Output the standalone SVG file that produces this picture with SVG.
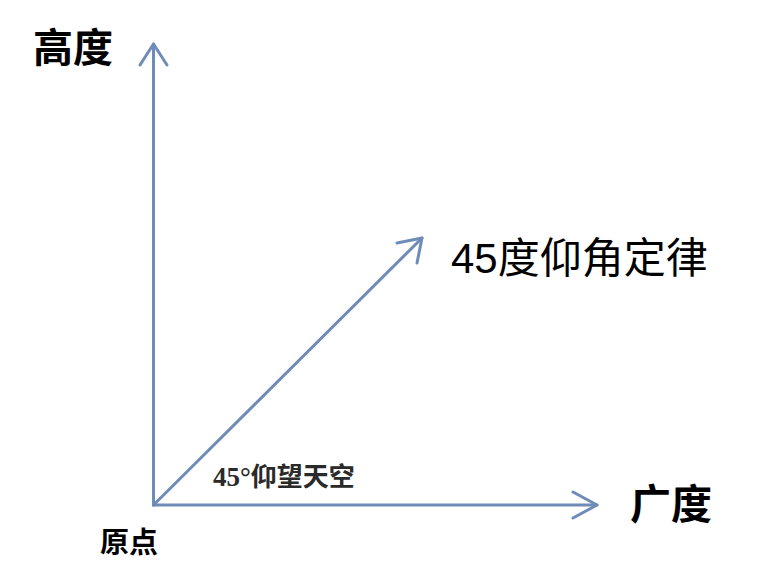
<svg xmlns="http://www.w3.org/2000/svg" width="767" height="588" viewBox="0 0 767 588">
<style>
.ax{fill:none;stroke:#6f8cb8;stroke-width:3;stroke-linecap:round;stroke-linejoin:round}
.big{font-family:"Liberation Sans","Noto Sans CJK SC",sans-serif;fill:#000}
.small{font-family:"Liberation Serif","Noto Sans CJK SC",serif;font-weight:bold;fill:#2a2a2a}
</style>
<rect width="767" height="588" fill="#fff"/>
<g id="connectors">
<path class="ax" d="M153.5,505 V44"/>
<path class="ax" d="M140,65 L153.5,44 L167,65"/>
<path class="ax" d="M153.5,505 H597"/>
<path class="ax" d="M573,492 L597,505 L573,518"/>
<path class="ax" d="M153.5,505 L422,238"/>
<path class="ax" d="M397,243 L422,238 L417,263"/>
</g>
<g id="height-label"><text class="big" x="33" y="62" font-size="40" font-weight="bold">高度</text></g>
<g id="law-label"><text class="big" x="451" y="273" font-size="42">45度仰角定律</text></g>
<g id="width-label"><text class="big" x="630" y="519" font-size="41" font-weight="bold">广度</text></g>
<g id="origin-label"><text class="big" x="100" y="553" font-size="29" font-weight="bold">原点</text></g>
<g id="angle-label"><text class="small" x="213" y="486" font-size="27">45°<tspan font-size="26">仰望天空</tspan></text></g>
</svg>
